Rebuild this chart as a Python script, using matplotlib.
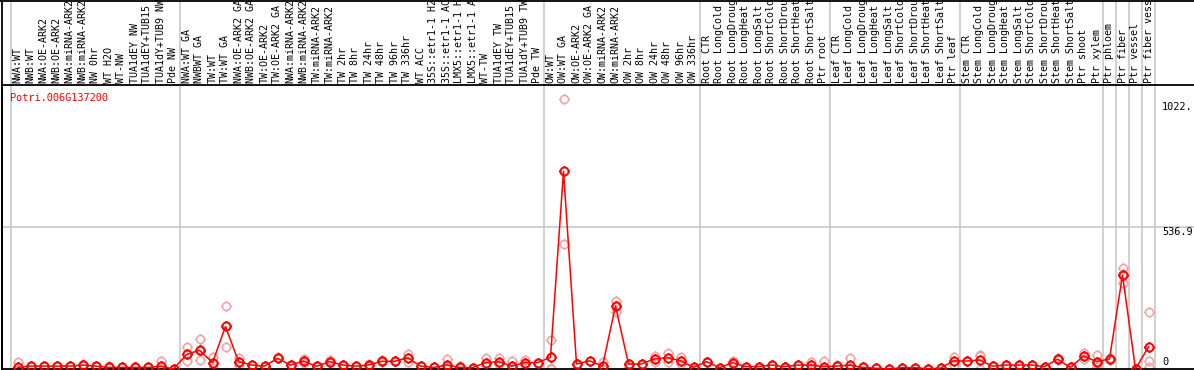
import matplotlib
matplotlib.use("Agg")
import matplotlib.pyplot as plt
from matplotlib.path import Path
from matplotlib.lines import Line2D
from matplotlib.transforms import blended_transform_factory
import numpy as np

gene = "Potri.006G137200"

samples = [
    # NW
    "NWA:WT", "NWB:WT", "NWA:OE-ARK2", "NWB:OE-ARK2", "NWA:miRNA-ARK2", "NWB:miRNA-ARK2",
    "NW 0hr", "WT H2O", "WT-NW", "TUA1dEY NW", "TUA1dEY+TUB15 NW", "TUA1dY+TUB9 NW", "Pde NW",
    # TW
    "NWA:WT GA", "NWBWT GA", "TW:WT", "TW:WT GA", "NWA:OE-ARK2 GA", "NWB:OE-ARK2 GA",
    "TW:OE-ARK2", "TW:OE-ARK2 GA", "NWA:miRNA-ARK2", "NWB:miRNA-ARK2", "TW:miRNA-ARK2",
    "TW:miRNA-ARK2", "TW 2hr", "TW 8hr", "TW 24hr", "TW 48hr", "TW 96hr", "TW 336hr",
    "WT ACC", "35S::etr1-1 H2O", "35S::etr1-1 ACC", "LMX5::etr1-1 H2O", "LMX5::etr1-1 ACC",
    "WT-TW", "TUA1dEY TW", "TUA1dEY+TUB15 TW", "TUA1dY+TUB9 TW", "Pde TW",
    # OW
    "OW:WT", "OW:WT GA", "OW:OE-ARK2", "OW:OE-ARK2 GA", "OW:miRNA-ARK2", "OW:miRNA-ARK2",
    "OW 2hr", "OW 8hr", "OW 24hr", "OW 48hr", "OW 96hr", "OW 336hr",
    # root
    "Root CTR", "Root LongCold", "Root LongDrought", "Root LongHeat", "Root LongSalt",
    "Root ShortCold", "Root ShortDrought", "Root ShortHeat", "Root ShortSalt", "Ptr root",
    # leaf
    "Leaf CTR", "Leaf LongCold", "Leaf LongDrought", "Leaf LongHeat", "Leaf LongSalt",
    "Leaf ShortCold", "Leaf ShortDrought", "Leaf ShortHeat", "Leaf ShortSalt", "Ptr leaf",
    # stem
    "Stem CTR", "Stem LongCold", "Stem LongDrought", "Stem LongHeat", "Stem LongSalt",
    "Stem ShortCold", "Stem ShortDrought", "Stem ShortHeat", "Stem ShortSalt", "Ptr shoot",
    "Ptr xylem",
    # single tissues
    "Ptr phloem", "Ptr fiber", "Ptr vessel", "Ptr fiber vessel",
]

# index of first sample of each group (last entry = end)
group_starts = [0, 13, 41, 53, 63, 73, 84, 85, 86, 87, 88]

means = [
    6, 11, 11, 11, 11, 15, 11, 6, 6, 6, 6, 10, 0,
    55, 71, 24, 161, 28, 15, 11, 40, 15, 30, 10, 28, 15, 11, 15, 29, 29, 43,
    11, 6, 15, 6, 5, 24, 28, 11, 24, 24,
    44, 748, 19, 31, 11, 238, 19, 19, 38, 43, 31, 6,
    28, 5, 24, 9, 9, 15, 9, 15, 15, 9,
    11, 15, 6, 3, 0, 5, 5, 1, 3, 31,
    30, 34, 11, 15, 15, 15, 9, 37, 6, 49, 28,
    38, 355, 0, 84,
]

reps = [
    [25, 0], [11, 11], [11, 11], [11, 11], [11, 11], [15, 18], [11, 11], [6, 10],
    [6, 6], [6, 6], [6, 6], [30, 2, 0], [0, 0],
    [82, 29, 55], [112, 33, 68], [44, 4, 24], [238, 82, 163], [40, 15, 28], [15, 15],
    [11, 11], [40, 45], [15, 15], [36, 24], [10, 10], [35, 22], [15, 15], [11, 11],
    [20, 10], [33, 25], [29, 29], [57, 28], [11, 11], [6, 6], [37, 8], [10, 3], [5, 5],
    [40, 12], [40, 18], [30, 5], [34, 15], [24, 24],
    [110, 5, 0], [1022, 472], [19, 19], [31, 31], [25, 0], [257, 217, 238], [19, 6],
    [19, 19], [49, 26], [62, 28], [46, 18], [6, 0],
    [28, 28], [5, 5], [29, 19], [9, 9], [9, 9], [15, 15], [9, 9], [15, 15], [25, 5],
    [30, 0],
    [11, 14], [40, 5, 0], [6, 6], [3, 3], [0, 0], [5, 5], [5, 5], [1, 1], [3, 3],
    [47, 15],
    [30, 30], [53, 49, 0], [11, 11], [15, 15], [15, 15], [15, 15], [9, 9], [40, 34],
    [6, 6], [62, 36, 49], [53, 20, 9],
    [43, 35], [381, 324, 360], [0, 0], [214, 30, 9],
]

ymax_label = 1022
ymid_label = 536.9

# circle marker with four little ticks
circ = Path.unit_circle()
t = 1.3
ticks = Path([[0, 1], [0, t], [0, -1], [0, -t], [1, 0], [t, 0], [-1, 0], [-t, 0]],
             [Path.MOVETO, Path.LINETO] * 4)
mk = Path.make_compound_path(circ, ticks)

W, H = 1194, 370
fig = plt.figure(figsize=(W / 100, H / 100), dpi=100)
ax_left, ax_top, ax_bot = 2, 85, 369
ax = fig.add_axes([ax_left / W, (H - ax_bot) / H, (W - ax_left) / W, (ax_bot - ax_top) / H])

x = np.arange(len(samples))
col_w = 13
xmin = -(17.5 - ax_left) / col_w
ax.set_xlim(xmin, xmin + (W - ax_left) / col_w)
ax.set_ylim(0, 2 * ymid_label)

# group separators (run over labels too)
for g in group_starts:
    ax.axvline(g - 0.5, ymin=0, ymax=(ax_bot - 0) / (ax_bot - ax_top), color="#c8c8c8",
               lw=1.2, clip_on=False, zorder=0)
ax.axhline(ymid_label, color="#c8c8c8", lw=1.2, zorder=0)

# replicates
for i, r in enumerate(reps):
    ax.plot([i] * len(r), r, linestyle="none", marker=mk, ms=7.5, mfc="none",
            mec="#f0a0a0", mew=1.1, clip_on=False, zorder=2)

ax.plot(x, means, color="red", lw=1.1, zorder=3, clip_on=False)
ax.plot(x, means, linestyle="none", marker=mk, ms=7.5, mfc="none", mec="red",
        mew=1.4, clip_on=False, zorder=4)

mono = "DejaVu Sans Mono"
trans = blended_transform_factory(ax.transData, fig.transFigure)
for i, s in enumerate(samples):
    ax.text(i, (H - 83) / H, s, rotation=90, ha="center", va="bottom", transform=trans,
            family=mono, fontsize=7.2, color="black", clip_on=False)

ax.text(xmin + (10 - ax_left) / col_w, 0.955, gene, transform=blended_transform_factory(ax.transData, ax.transAxes),
        family=mono, fontsize=7.4, color="red", ha="left", va="center")

lx = xmin + (1162 - ax_left) / col_w
ax.text(lx, 990, "%d." % ymax_label, family=mono, fontsize=7.4, ha="left", va="center")
ax.text(lx, 518, "%.1f" % ymid_label, family=mono, fontsize=7.4, ha="left", va="center")
ax.text(lx, 26, "0", family=mono, fontsize=7.4, ha="left", va="center")

ax.set_xticks([])
ax.set_yticks([])
for side in ["left", "top", "bottom"]:
    ax.spines[side].set_color("black")
    ax.spines[side].set_linewidth(1.3)
ax.spines["right"].set_visible(False)

# frame of the label strip
fig.add_artist(Line2D([0, 1], [1 - 0.5 / H, 1 - 0.5 / H], color="black", lw=1.3,
                      transform=fig.transFigure))
fig.add_artist(Line2D([ax_left / W, ax_left / W], [0, 1], color="black", lw=1.3,
                      transform=fig.transFigure))

fig.savefig("out.png", dpi=100)
